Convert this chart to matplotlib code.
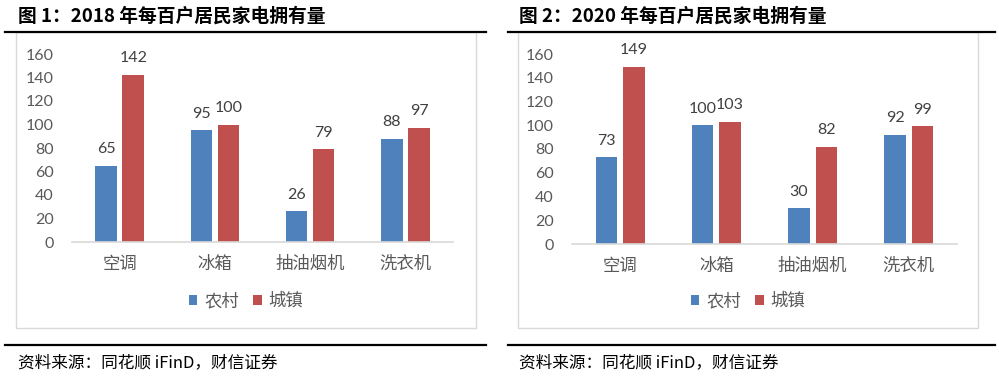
import matplotlib
matplotlib.use("Agg")
import matplotlib.pyplot as plt
from matplotlib.patches import Rectangle
from matplotlib.lines import Line2D
import numpy as np

plt.rcParams['font.family'] = ['Noto Sans CJK SC', 'DejaVu Sans']

categories = ["空调", "冰箱", "抽油烟机", "洗衣机"]
series_names = ["农村", "城镇"]
rural_2018 = [65, 95, 26, 88]
urban_2018 = [142, 100, 79, 97]
rural_2020 = [73, 100, 30, 92]
urban_2020 = [149, 103, 82, 99]
yticks = [0, 20, 40, 60, 80, 100, 120, 140, 160]
titles = ["图 1：2018 年每百户居民家电拥有量", "图 2：2020 年每百户居民家电拥有量"]
source = "资料来源：同花顺 iFinD，财信证券"

BLUE = "#4F81BD"
RED = "#C0504D"

W, H = 999, 383
fig = plt.figure(figsize=(W / 100, H / 100), dpi=100)


def fx(x):
    return x / W


def fy(y):
    return 1 - y / H


panels = [
    dict(ax=(72, 453, 54, 242), box=(16, 476, 32, 328), line=(5, 486), tx=18,
         rural=rural_2018, urban=urban_2018, title=titles[0]),
    dict(ax=(572, 957, 54, 244), box=(518, 978, 32, 328), line=(508, 995), tx=519,
         rural=rural_2020, urban=urban_2020, title=titles[1]),
]

for p in panels:
    bx0, bx1, by0, by1 = p["box"]
    fig.add_artist(Rectangle((fx(bx0), fy(by1)), fx(bx1 - bx0), (by1 - by0) / H,
                             transform=fig.transFigure, fill=False,
                             edgecolor="#D9D9D9", linewidth=1.0))
    lx0, lx1 = p["line"]
    fig.add_artist(Line2D([fx(lx0), fx(lx1)], [fy(32), fy(32)], transform=fig.transFigure,
                          color="black", linewidth=1.6))
    fig.add_artist(Line2D([fx(lx0), fx(lx1)], [fy(345), fy(345)], transform=fig.transFigure,
                          color="black", linewidth=1.6))
    fig.text(fx(p["tx"]), fy(16), p["title"], fontsize=13.5, fontweight="bold",
             ha="left", va="center", color="black")
    fig.text(fx(p["tx"]), fy(363), source, fontsize=12, style="italic",
             ha="left", va="center", color="black")

    x0, x1, y0, y1 = p["ax"]
    ax = fig.add_axes([fx(x0), fy(y1), fx(x1 - x0), (y1 - y0) / H])
    x = np.arange(len(categories))
    bw = 0.225
    gap = 0.06
    off = (bw + gap) / 2
    b1 = ax.bar(x - off, p["rural"], width=bw, color=BLUE, label=series_names[0])
    b2 = ax.bar(x + off, p["urban"], width=bw, color=RED, label=series_names[1])
    for bars in (b1, b2):
        for r in bars:
            ax.annotate(f"{int(r.get_height())}", (r.get_x() + r.get_width() / 2, r.get_height()),
                        xytext=(0, 12), textcoords="offset points", ha="center", va="center",
                        fontsize=11.5, color="#404040", family=["Lato", "DejaVu Sans"])
    ax.set_xlim(-0.5, len(categories) - 0.5)
    ax.set_ylim(0, 160)
    ax.set_yticks(yticks)
    ax.set_yticklabels([str(v) for v in yticks], family=["Lato", "DejaVu Sans"],
                       fontsize=11.5, color="#595959")
    ax.set_xticks(x)
    ax.set_xticklabels(categories, fontsize=12.5, color="#595959")
    ax.tick_params(axis="y", length=0, pad=13)
    ax.tick_params(axis="x", length=0, pad=9)
    for s in ("top", "right", "left"):
        ax.spines[s].set_visible(False)
    ax.spines["bottom"].set_color("#D9D9D9")
    ax.spines["bottom"].set_linewidth(1.2)
    ax.patch.set_alpha(0)

    cx = (bx0 + bx1) / 2
    fig.legend(handles=[b1, b2], labels=series_names, loc="center",
               bbox_to_anchor=(fx(cx), fy(301)), ncol=2, frameon=False,
               fontsize=12.5, handlelength=0.5, handleheight=0.5, handletextpad=0.4,
               columnspacing=0.8, labelcolor="#595959")

fig.savefig("out.png", dpi=100)
